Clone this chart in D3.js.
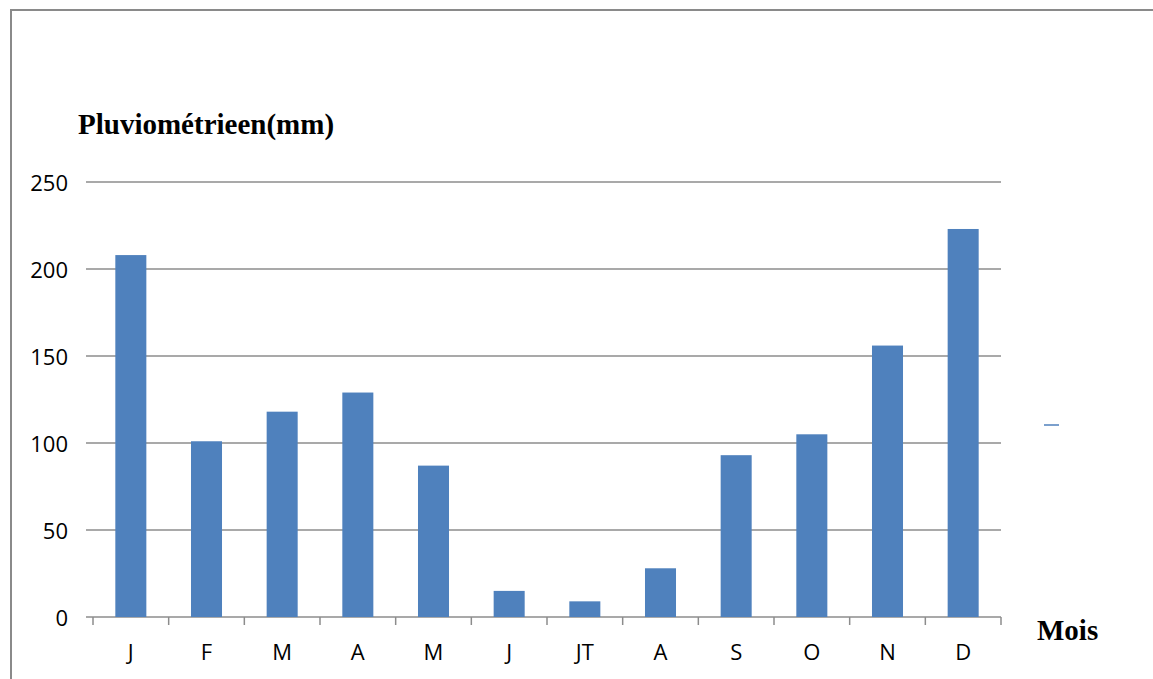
<!DOCTYPE html>
<html>
<head>
<meta charset="utf-8">
<script src="https://cdn.jsdelivr.net/npm/d3@7"></script>
<style>
  html, body { margin: 0; padding: 0; background: #fff; }
  svg { display: block; }
</style>
</head>
<body>
<script>
const months = ['J', 'F', 'M', 'A', 'M', 'J', 'JT', 'A', 'S', 'O', 'N', 'D'];
const rainfall = [208, 101, 118, 129, 87, 15, 9, 28, 93, 105, 156, 223];
const yTicks = [0, 50, 100, 150, 200, 250];

const width = 1153;
const height = 679;
const plotLeft = 93, plotRight = 1001, plotTop = 182, plotBottom = 617;

const svg = d3.select('body')
    .append('svg')
    .attr('width', width)
    .attr('height', height);

// outer frame
svg.append('rect')
    .attr('x', 11)
    .attr('y', 10)
    .attr('width', width + 20)
    .attr('height', height + 20)
    .attr('fill', 'none')
    .attr('stroke', '#8a8a8a')
    .attr('stroke-width', 2);

// scales use month index so repeated letters stay separate
const x = d3.scaleBand()
    .domain(d3.range(months.length))
    .range([plotLeft, plotRight])
    .paddingInner(0.59)
    .paddingOuter(0.295);

const xTicks = d3.scaleBand()
    .domain(d3.range(months.length))
    .range([plotLeft, plotRight]);

const y = d3.scaleLinear()
    .domain([0, 250])
    .range([plotBottom, plotTop]);

// gridlines
svg.append('g')
    .selectAll('line')
    .data(yTicks)
    .join('line')
    .attr('x1', 86)
    .attr('x2', plotRight)
    .attr('y1', d => y(d))
    .attr('y2', d => y(d))
    .attr('stroke', '#8c8c8c')
    .attr('stroke-width', 1.5);

// y labels
svg.append('g')
    .selectAll('text')
    .data(yTicks)
    .join('text')
    .attr('x', 68)
    .attr('y', d => y(d) + 3)
    .attr('text-anchor', 'end')
    .attr('dominant-baseline', 'middle')
    .style('font-family', '"Open Sans", sans-serif')
    .style('font-size', '22px')
    .attr('fill', '#000')
    .text(d => d);

// bars
svg.append('g')
    .selectAll('rect')
    .data(rainfall)
    .join('rect')
    .attr('x', (d, i) => x(i))
    .attr('y', d => y(d))
    .attr('width', x.bandwidth())
    .attr('height', d => y(0) - y(d))
    .attr('fill', '#4f81bd');

// x tick marks
const tickPos = d3.range(months.length + 1).map(i => i < months.length ? xTicks(i) : plotRight);
svg.append('g')
    .selectAll('line')
    .data(tickPos)
    .join('line')
    .attr('x1', d => d)
    .attr('x2', d => d)
    .attr('y1', plotBottom)
    .attr('y2', plotBottom + 8)
    .attr('stroke', '#8c8c8c')
    .attr('stroke-width', 1.5);

// x labels
svg.append('g')
    .selectAll('text')
    .data(months)
    .join('text')
    .attr('x', (d, i) => xTicks(i) + xTicks.bandwidth() / 2)
    .attr('y', 654)
    .attr('text-anchor', 'middle')
    .attr('dominant-baseline', 'middle')
    .style('font-family', '"Open Sans", sans-serif')
    .style('font-size', '22px')
    .attr('fill', '#000')
    .text(d => d);

// axis titles
svg.append('text')
    .attr('x', 78)
    .attr('y', 134)
    .style('font-family', '"Liberation Serif", serif')
    .style('font-weight', 'bold')
    .style('font-size', '29px')
    .text('Pluviométrieen(mm)');

svg.append('text')
    .attr('x', 1037)
    .attr('y', 640)
    .style('font-family', '"Liberation Serif", serif')
    .style('font-weight', 'bold')
    .style('font-size', '29px')
    .text('Mois');

// legend marker without label
svg.append('line')
    .attr('x1', 1044)
    .attr('x2', 1059)
    .attr('y1', 425)
    .attr('y2', 425)
    .attr('stroke', '#4f81bd')
    .attr('stroke-width', 1.5);
</script>
</body>
</html>
